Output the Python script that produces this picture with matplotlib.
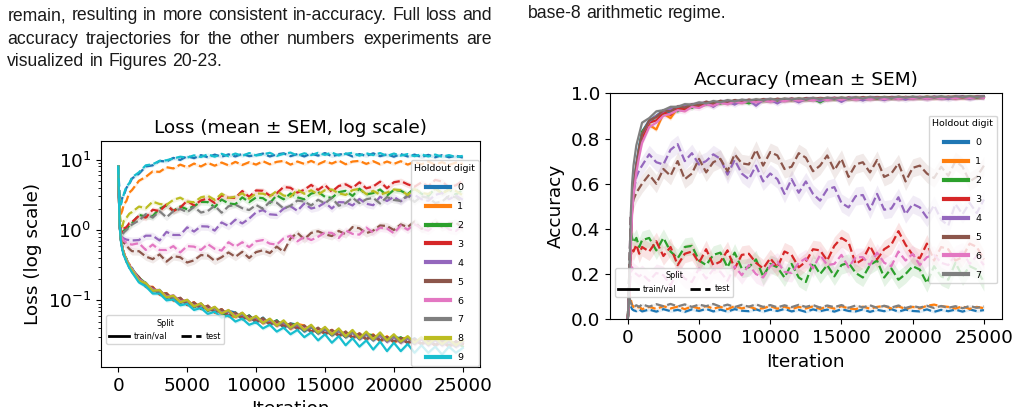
import matplotlib
matplotlib.use("Agg")
import matplotlib.pyplot as plt
from matplotlib.lines import Line2D
import numpy as np

# ---------------- data ----------------
ITER = [0, 100, 200, 300, 400, 600, 800, 1000] + list(range(1500, 25001, 500))
XTICKS = [0, 5000, 10000, 15000, 20000, 25000]
DIGITS_LOSS = [0, 1, 2, 3, 4, 5, 6, 7, 8, 9]
DIGITS_ACC = [0, 1, 2, 3, 4, 5, 6, 7]

loss_train_0 = [8.0, 1.18, 0.7, 0.58, 0.44, 0.39, 0.29, 0.29, 0.185, 0.178, 0.135, 0.141, 0.108, 0.117, 0.092, 0.101, 0.08, 0.09, 0.071, 0.08, 0.064, 0.071, 0.067, 0.054, 0.061, 0.048, 0.057, 0.045, 0.052, 0.041, 0.047, 0.045, 0.036, 0.042, 0.034, 0.039, 0.032, 0.037, 0.03, 0.035, 0.028, 0.033, 0.027, 0.032, 0.026, 0.03, 0.029, 0.025, 0.029, 0.024, 0.028, 0.023, 0.027, 0.026, 0.022, 0.026]
loss_train_1 = [8.0, 1.22, 0.74, 0.53, 0.49, 0.35, 0.33, 0.25, 0.215, 0.155, 0.156, 0.121, 0.127, 0.1, 0.108, 0.086, 0.094, 0.076, 0.084, 0.067, 0.075, 0.06, 0.058, 0.066, 0.052, 0.058, 0.047, 0.054, 0.043, 0.051, 0.039, 0.046, 0.044, 0.036, 0.04, 0.033, 0.038, 0.031, 0.036, 0.029, 0.034, 0.028, 0.033, 0.026, 0.031, 0.025, 0.029, 0.029, 0.024, 0.028, 0.027, 0.023, 0.027, 0.022, 0.026, 0.024]
loss_train_2 = [8.0, 1.2, 0.71, 0.57, 0.45, 0.39, 0.3, 0.28, 0.21, 0.175, 0.138, 0.139, 0.111, 0.115, 0.094, 0.099, 0.081, 0.089, 0.072, 0.079, 0.066, 0.06, 0.067, 0.055, 0.061, 0.05, 0.056, 0.046, 0.052, 0.042, 0.046, 0.045, 0.037, 0.042, 0.034, 0.039, 0.032, 0.037, 0.03, 0.035, 0.029, 0.033, 0.032, 0.027, 0.03, 0.026, 0.03, 0.025, 0.028, 0.024, 0.028, 0.023, 0.027, 0.023, 0.026, 0.022]
loss_train_3 = [8.0, 1.19, 0.73, 0.55, 0.48, 0.36, 0.32, 0.27, 0.205, 0.158, 0.153, 0.122, 0.124, 0.102, 0.107, 0.087, 0.093, 0.077, 0.082, 0.068, 0.074, 0.061, 0.063, 0.058, 0.057, 0.052, 0.052, 0.048, 0.048, 0.044, 0.044, 0.041, 0.043, 0.036, 0.04, 0.034, 0.038, 0.032, 0.035, 0.03, 0.033, 0.028, 0.032, 0.027, 0.03, 0.026, 0.029, 0.025, 0.028, 0.024, 0.027, 0.023, 0.026, 0.022, 0.026, 0.024]
loss_train_4 = [8.0, 1.21, 0.72, 0.54, 0.47, 0.37, 0.31, 0.27, 0.2, 0.17, 0.14, 0.136, 0.113, 0.113, 0.096, 0.098, 0.083, 0.087, 0.073, 0.077, 0.066, 0.069, 0.059, 0.063, 0.053, 0.057, 0.048, 0.052, 0.044, 0.048, 0.04, 0.045, 0.038, 0.042, 0.035, 0.039, 0.033, 0.037, 0.031, 0.035, 0.029, 0.033, 0.028, 0.031, 0.026, 0.03, 0.025, 0.029, 0.024, 0.028, 0.023, 0.027, 0.023, 0.026, 0.022, 0.025]
loss_train_5 = [8.0, 1.2, 0.72, 0.56, 0.46, 0.37, 0.32, 0.27, 0.215, 0.157, 0.152, 0.123, 0.126, 0.1, 0.109, 0.087, 0.093, 0.076, 0.084, 0.068, 0.075, 0.06, 0.067, 0.055, 0.06, 0.05, 0.056, 0.045, 0.051, 0.042, 0.047, 0.039, 0.044, 0.035, 0.041, 0.033, 0.038, 0.031, 0.036, 0.029, 0.034, 0.028, 0.032, 0.027, 0.03, 0.026, 0.029, 0.025, 0.028, 0.024, 0.027, 0.023, 0.027, 0.022, 0.026, 0.024]
loss_train_6 = [8.0, 1.23, 0.73, 0.57, 0.48, 0.38, 0.32, 0.28, 0.2, 0.175, 0.142, 0.14, 0.113, 0.118, 0.097, 0.101, 0.083, 0.09, 0.074, 0.08, 0.066, 0.072, 0.06, 0.066, 0.054, 0.059, 0.049, 0.054, 0.045, 0.05, 0.041, 0.047, 0.039, 0.044, 0.035, 0.041, 0.033, 0.038, 0.031, 0.036, 0.029, 0.034, 0.028, 0.033, 0.026, 0.031, 0.025, 0.03, 0.024, 0.029, 0.023, 0.028, 0.023, 0.027, 0.022, 0.026]
loss_train_7 = [8.0, 1.17, 0.7, 0.54, 0.46, 0.36, 0.31, 0.265, 0.195, 0.17, 0.139, 0.136, 0.112, 0.114, 0.095, 0.099, 0.082, 0.088, 0.073, 0.078, 0.066, 0.07, 0.059, 0.064, 0.053, 0.058, 0.048, 0.053, 0.044, 0.049, 0.04, 0.046, 0.037, 0.043, 0.034, 0.04, 0.032, 0.038, 0.03, 0.036, 0.028, 0.034, 0.027, 0.033, 0.026, 0.031, 0.025, 0.03, 0.024, 0.029, 0.023, 0.028, 0.023, 0.027, 0.022, 0.026]
loss_train_8 = [8.0, 1.2, 0.72, 0.55, 0.47, 0.37, 0.31, 0.27, 0.19, 0.176, 0.137, 0.14, 0.11, 0.117, 0.094, 0.102, 0.082, 0.091, 0.072, 0.081, 0.065, 0.073, 0.058, 0.067, 0.053, 0.06, 0.048, 0.055, 0.044, 0.052, 0.041, 0.048, 0.038, 0.045, 0.035, 0.042, 0.033, 0.04, 0.031, 0.038, 0.029, 0.036, 0.028, 0.035, 0.027, 0.033, 0.026, 0.031, 0.025, 0.03, 0.024, 0.029, 0.024, 0.028, 0.023, 0.027]
loss_train_9 = [8.0, 1.15, 0.68, 0.52, 0.44, 0.35, 0.29, 0.25, 0.18, 0.158, 0.125, 0.125, 0.1, 0.103, 0.085, 0.089, 0.073, 0.078, 0.064, 0.069, 0.057, 0.061, 0.05, 0.055, 0.045, 0.049, 0.04, 0.045, 0.036, 0.041, 0.033, 0.038, 0.03, 0.035, 0.027, 0.033, 0.025, 0.031, 0.023, 0.029, 0.022, 0.027, 0.02, 0.026, 0.019, 0.025, 0.019, 0.024, 0.018, 0.023, 0.018, 0.022, 0.017, 0.022, 0.018, 0.021]

loss_test_0 = [8.0, 3.0, 2.4, 2.9, 3.1, 4.0, 4.5, 5.4, 6.3, 8.0, 8.3, 9.6, 9.4, 10.6, 9.9, 11.2, 10.5, 11.6, 10.8, 11.8, 11.0, 11.9, 11.1, 12.1, 11.2, 11.6, 12.2, 11.1, 11.9, 12.3, 11.2, 12.0, 11.1, 12.2, 11.4, 12.4, 11.2, 11.8, 12.2, 11.1, 12.0, 11.3, 12.3, 11.2, 11.9, 11.0, 12.0, 11.1, 11.8, 10.9, 11.7, 10.8, 11.6, 10.8, 11.4, 10.7]
loss_test_1 = [8.0, 2.2, 1.7, 1.9, 2.3, 2.6, 3.4, 3.7, 5.0, 5.7, 6.8, 6.7, 7.8, 7.5, 8.5, 7.8, 8.8, 8.0, 9.0, 8.2, 9.1, 8.3, 9.3, 8.4, 9.2, 8.5, 9.5, 8.6, 9.3, 9.6, 8.5, 9.4, 8.7, 9.6, 8.6, 9.5, 8.8, 9.7, 8.6, 9.4, 9.6, 8.7, 9.5, 8.6, 9.4, 8.7, 9.5, 8.5, 9.3, 8.6, 9.4, 8.5, 9.2, 8.4, 9.1, 8.7]
loss_test_2 = [8.0, 1.5, 0.95, 0.88, 0.98, 1.05, 1.15, 1.25, 1.64, 1.55, 1.58, 2.01, 2.24, 1.87, 2.16, 1.97, 2.18, 2.51, 2.49, 2.11, 2.71, 2.39, 2.32, 2.91, 2.49, 2.90, 2.83, 2.42, 3.11, 2.73, 3.30, 2.91, 2.73, 3.29, 3.48, 2.96, 2.86, 3.45, 3.60, 3.05, 3.86, 3.20, 3.35, 3.76, 3.08, 3.71, 3.61, 3.23, 3.92, 3.28, 3.03, 3.92, 3.34, 3.76, 3.19, 3.71]
loss_test_3 = [8.0, 1.6, 1.0, 0.92, 1.05, 1.1, 1.25, 1.3, 1.59, 1.50, 1.94, 1.86, 2.30, 1.86, 2.08, 2.60, 2.23, 2.63, 2.81, 2.42, 3.11, 2.86, 2.87, 3.58, 2.96, 3.65, 3.61, 3.08, 3.33, 4.09, 3.98, 3.40, 3.73, 4.37, 3.71, 4.36, 3.50, 4.22, 4.46, 3.95, 4.76, 3.91, 4.15, 4.86, 3.92, 4.77, 4.96, 4.46, 4.12, 4.74, 4.19, 5.15, 4.88, 4.05, 4.32, 5.01]
loss_test_4 = [8.0, 1.3, 0.85, 0.78, 0.76, 0.73, 0.72, 0.71, 0.72, 0.83, 0.83, 0.71, 0.94, 0.85, 0.85, 1.09, 0.95, 1.13, 1.12, 0.98, 1.28, 1.14, 1.40, 1.24, 1.45, 1.78, 1.92, 1.67, 1.64, 2.01, 2.18, 1.87, 2.38, 2.02, 2.13, 2.45, 2.02, 2.49, 2.47, 2.23, 2.76, 2.36, 2.25, 2.97, 2.58, 2.96, 2.55, 3.02, 3.16, 2.74, 2.60, 3.15, 3.36, 2.73, 3.09, 2.69]
loss_test_5 = [8.0, 1.2, 0.8, 0.74, 0.66, 0.6, 0.54, 0.5, 0.50, 0.42, 0.385, 0.45, 0.355, 0.425, 0.41, 0.345, 0.37, 0.44, 0.435, 0.365, 0.41, 0.48, 0.415, 0.49, 0.40, 0.485, 0.515, 0.47, 0.58, 0.49, 0.76, 0.91, 0.74, 0.91, 0.96, 0.87, 0.82, 0.97, 0.87, 1.10, 1.06, 0.90, 0.98, 1.16, 1.14, 1.00, 1.20, 1.10, 1.32, 1.04, 1.11, 1.33, 1.09, 1.24, 1.27, 1.06]
loss_test_6 = [8.0, 1.2, 0.8, 0.76, 0.7, 0.66, 0.63, 0.62, 0.65, 0.52, 0.62, 0.52, 0.52, 0.59, 0.48, 0.59, 0.58, 0.52, 0.63, 0.54, 0.51, 0.67, 0.58, 0.67, 0.57, 0.69, 0.72, 0.64, 0.62, 0.76, 0.83, 0.69, 0.80, 0.72, 0.80, 0.92, 0.91, 0.77, 0.99, 0.88, 0.86, 1.08, 0.92, 1.08, 1.05, 0.90, 1.16, 1.01, 1.21, 1.06, 0.98, 1.17, 1.22, 1.02, 0.97, 1.15]
loss_test_7 = [8.0, 1.4, 0.9, 0.84, 0.92, 1.0, 1.1, 1.2, 1.36, 1.68, 1.50, 1.85, 1.51, 1.85, 1.99, 1.79, 2.13, 1.77, 1.86, 2.21, 1.76, 2.17, 2.29, 2.04, 1.92, 2.27, 2.00, 2.52, 2.44, 2.02, 2.21, 2.62, 2.54, 2.23, 2.69, 2.39, 2.86, 2.21, 2.41, 2.87, 2.41, 2.73, 2.86, 2.38, 2.94, 2.67, 2.59, 3.12, 2.50, 3.00, 2.87, 2.42, 2.54, 3.04, 2.92, 2.46]
loss_test_8 = [8.0, 1.8, 1.2, 1.12, 1.35, 1.5, 1.7, 1.8, 2.15, 2.04, 2.53, 2.34, 2.28, 2.68, 2.88, 2.53, 2.48, 2.91, 3.06, 2.68, 3.28, 2.85, 2.97, 3.33, 2.79, 3.31, 3.28, 3.01, 3.59, 3.09, 2.97, 3.74, 3.27, 3.67, 3.19, 3.68, 3.76, 3.33, 3.15, 3.68, 3.85, 3.24, 3.59, 3.19, 3.41, 3.76, 3.68, 3.15, 3.81, 3.37, 3.24, 3.85, 3.33, 3.72, 3.59, 3.11]
loss_test_9 = [8.0, 2.8, 2.3, 2.8, 3.2, 4.2, 4.6, 5.6, 6.6, 8.3, 8.6, 9.6, 9.8, 10.4, 11.0, 10.7, 11.5, 10.9, 11.9, 11.0, 12.1, 11.2, 12.2, 11.3, 12.4, 11.5, 11.9, 12.5, 11.3, 12.1, 12.6, 11.4, 12.3, 11.6, 12.5, 11.7, 12.6, 11.5, 12.1, 12.5, 11.4, 12.3, 11.6, 12.4, 11.3, 12.2, 11.4, 12.0, 11.2, 11.9, 11.1, 11.8, 11.0, 11.6, 10.9, 11.3]

acc_train_0 = [0.0, 0.12, 0.36, 0.5, 0.59, 0.69, 0.77, 0.83, 0.88, 0.9, 0.925, 0.915, 0.94, 0.93, 0.95, 0.945, 0.96, 0.952, 0.965, 0.958, 0.968, 0.962, 0.97, 0.965, 0.972, 0.966, 0.974, 0.968, 0.975, 0.97, 0.977, 0.972, 0.978, 0.973, 0.979, 0.974, 0.98, 0.975, 0.981, 0.976, 0.98, 0.977, 0.982, 0.976, 0.983, 0.978, 0.982, 0.979, 0.984, 0.978, 0.983, 0.98, 0.985, 0.979, 0.984, 0.981]
acc_train_1 = [0.0, 0.11, 0.34, 0.49, 0.57, 0.67, 0.75, 0.8, 0.86, 0.84, 0.91, 0.89, 0.935, 0.925, 0.945, 0.95, 0.955, 0.962, 0.958, 0.966, 0.96, 0.969, 0.963, 0.971, 0.967, 0.973, 0.969, 0.975, 0.97, 0.976, 0.972, 0.978, 0.974, 0.979, 0.975, 0.98, 0.976, 0.981, 0.977, 0.982, 0.978, 0.983, 0.979, 0.984, 0.98, 0.983, 0.979, 0.985, 0.98, 0.984, 0.981, 0.986, 0.98, 0.985, 0.982, 0.986]
acc_train_2 = [0.0, 0.13, 0.36, 0.51, 0.58, 0.68, 0.76, 0.83, 0.87, 0.9, 0.91, 0.93, 0.92, 0.945, 0.935, 0.955, 0.95, 0.962, 0.955, 0.966, 0.96, 0.968, 0.955, 0.97, 0.966, 0.973, 0.968, 0.974, 0.97, 0.976, 0.971, 0.977, 0.96, 0.978, 0.974, 0.979, 0.975, 0.98, 0.976, 0.981, 0.977, 0.982, 0.978, 0.983, 0.979, 0.984, 0.98, 0.983, 0.981, 0.985, 0.98, 0.984, 0.982, 0.986, 0.981, 0.985]
acc_train_3 = [0.0, 0.12, 0.34, 0.48, 0.57, 0.67, 0.74, 0.8, 0.87, 0.88, 0.915, 0.905, 0.935, 0.93, 0.95, 0.942, 0.958, 0.95, 0.963, 0.956, 0.967, 0.96, 0.97, 0.963, 0.972, 0.966, 0.974, 0.968, 0.975, 0.97, 0.976, 0.972, 0.978, 0.973, 0.979, 0.974, 0.98, 0.975, 0.981, 0.976, 0.98, 0.977, 0.982, 0.976, 0.981, 0.978, 0.983, 0.977, 0.982, 0.979, 0.984, 0.978, 0.983, 0.98, 0.984, 0.982]
acc_train_4 = [0.0, 0.12, 0.35, 0.5, 0.58, 0.68, 0.76, 0.82, 0.875, 0.9, 0.92, 0.93, 0.94, 0.945, 0.95, 0.955, 0.96, 0.94, 0.963, 0.965, 0.95, 0.968, 0.969, 0.945, 0.971, 0.972, 0.955, 0.974, 0.975, 0.96, 0.976, 0.977, 0.965, 0.978, 0.979, 0.962, 0.98, 0.98, 0.968, 0.981, 0.981, 0.97, 0.982, 0.982, 0.972, 0.983, 0.983, 0.975, 0.984, 0.984, 0.974, 0.985, 0.985, 0.976, 0.985, 0.986]
acc_train_5 = [0.0, 0.12, 0.35, 0.5, 0.58, 0.68, 0.76, 0.82, 0.88, 0.895, 0.925, 0.92, 0.942, 0.937, 0.951, 0.948, 0.963, 0.955, 0.967, 0.958, 0.97, 0.962, 0.972, 0.965, 0.974, 0.967, 0.976, 0.969, 0.977, 0.97, 0.978, 0.972, 0.979, 0.973, 0.98, 0.975, 0.981, 0.975, 0.982, 0.976, 0.983, 0.977, 0.983, 0.978, 0.984, 0.979, 0.984, 0.98, 0.985, 0.98, 0.985, 0.981, 0.986, 0.981, 0.986, 0.983]
acc_train_6 = [0.0, 0.1, 0.3, 0.46, 0.55, 0.65, 0.72, 0.78, 0.85, 0.87, 0.9, 0.91, 0.925, 0.92, 0.94, 0.935, 0.95, 0.945, 0.958, 0.952, 0.963, 0.957, 0.966, 0.96, 0.969, 0.963, 0.971, 0.965, 0.973, 0.967, 0.974, 0.969, 0.976, 0.97, 0.977, 0.971, 0.978, 0.972, 0.979, 0.973, 0.98, 0.974, 0.98, 0.975, 0.981, 0.976, 0.982, 0.976, 0.982, 0.977, 0.983, 0.978, 0.983, 0.979, 0.984, 0.98]
acc_train_7 = [0.0, 0.15, 0.45, 0.6, 0.68, 0.77, 0.82, 0.87, 0.89, 0.92, 0.925, 0.94, 0.94, 0.952, 0.95, 0.96, 0.955, 0.966, 0.96, 0.97, 0.964, 0.972, 0.967, 0.974, 0.969, 0.976, 0.97, 0.977, 0.972, 0.978, 0.973, 0.98, 0.974, 0.981, 0.975, 0.982, 0.976, 0.983, 0.977, 0.984, 0.978, 0.984, 0.979, 0.985, 0.98, 0.985, 0.98, 0.986, 0.981, 0.986, 0.982, 0.987, 0.982, 0.987, 0.983, 0.987]

acc_test_0 = [0.0, 0.08, 0.06, 0.045, 0.04, 0.036, 0.044, 0.035, 0.043, 0.034, 0.045, 0.036, 0.042, 0.033, 0.044, 0.037, 0.046, 0.035, 0.043, 0.034, 0.045, 0.038, 0.036, 0.044, 0.034, 0.043, 0.037, 0.046, 0.035, 0.042, 0.033, 0.044, 0.036, 0.043, 0.034, 0.045, 0.037, 0.035, 0.044, 0.033, 0.042, 0.036, 0.045, 0.034, 0.043, 0.037, 0.035, 0.044, 0.033, 0.042, 0.036, 0.043, 0.034, 0.044, 0.036, 0.041]
acc_test_1 = [0.0, 0.12, 0.09, 0.065, 0.055, 0.048, 0.056, 0.045, 0.055, 0.046, 0.058, 0.048, 0.056, 0.045, 0.057, 0.048, 0.059, 0.047, 0.055, 0.045, 0.058, 0.048, 0.056, 0.046, 0.049, 0.058, 0.047, 0.056, 0.045, 0.055, 0.048, 0.057, 0.046, 0.056, 0.047, 0.058, 0.048, 0.045, 0.056, 0.047, 0.055, 0.059, 0.048, 0.057, 0.046, 0.055, 0.048, 0.06, 0.065, 0.058, 0.055, 0.048, 0.057, 0.046, 0.055, 0.049]
acc_test_2 = [0.0, 0.2, 0.4, 0.36, 0.34, 0.36, 0.32, 0.35, 0.36, 0.305, 0.36, 0.30, 0.27, 0.32, 0.325, 0.26, 0.24, 0.285, 0.295, 0.23, 0.295, 0.225, 0.23, 0.265, 0.19, 0.245, 0.23, 0.185, 0.245, 0.185, 0.165, 0.25, 0.20, 0.24, 0.19, 0.24, 0.25, 0.205, 0.185, 0.24, 0.26, 0.185, 0.225, 0.175, 0.20, 0.235, 0.22, 0.16, 0.235, 0.19, 0.175, 0.25, 0.19, 0.235, 0.22, 0.165]
acc_test_3 = [0.0, 0.15, 0.28, 0.31, 0.3, 0.33, 0.29, 0.32, 0.30, 0.345, 0.28, 0.32, 0.24, 0.29, 0.30, 0.25, 0.31, 0.24, 0.255, 0.305, 0.225, 0.285, 0.29, 0.25, 0.225, 0.27, 0.23, 0.30, 0.285, 0.23, 0.255, 0.31, 0.305, 0.26, 0.325, 0.36, 0.34, 0.245, 0.265, 0.325, 0.265, 0.31, 0.33, 0.39, 0.33, 0.285, 0.27, 0.335, 0.26, 0.32, 0.31, 0.26, 0.275, 0.335, 0.32, 0.265]
acc_test_4 = [0.0, 0.2, 0.45, 0.53, 0.56, 0.63, 0.66, 0.68, 0.73, 0.695, 0.685, 0.75, 0.775, 0.70, 0.735, 0.685, 0.70, 0.73, 0.71, 0.64, 0.705, 0.645, 0.62, 0.68, 0.61, 0.645, 0.62, 0.555, 0.62, 0.56, 0.61, 0.555, 0.525, 0.575, 0.585, 0.515, 0.495, 0.545, 0.55, 0.485, 0.555, 0.485, 0.49, 0.54, 0.465, 0.51, 0.495, 0.45, 0.505, 0.44, 0.415, 0.51, 0.465, 0.515, 0.47, 0.53]
acc_test_5 = [0.0, 0.2, 0.45, 0.5, 0.53, 0.56, 0.58, 0.6, 0.64, 0.60, 0.665, 0.635, 0.70, 0.62, 0.645, 0.71, 0.65, 0.695, 0.71, 0.655, 0.73, 0.69, 0.685, 0.75, 0.68, 0.74, 0.725, 0.665, 0.675, 0.735, 0.715, 0.655, 0.68, 0.725, 0.66, 0.71, 0.63, 0.685, 0.695, 0.65, 0.705, 0.63, 0.645, 0.69, 0.61, 0.67, 0.68, 0.645, 0.625, 0.675, 0.635, 0.70, 0.675, 0.61, 0.63, 0.68]
acc_test_6 = [0.0, 0.12, 0.2, 0.23, 0.21, 0.2, 0.19, 0.2, 0.17, 0.205, 0.195, 0.15, 0.215, 0.18, 0.165, 0.225, 0.18, 0.22, 0.21, 0.17, 0.235, 0.195, 0.24, 0.20, 0.185, 0.235, 0.255, 0.21, 0.205, 0.25, 0.27, 0.225, 0.285, 0.24, 0.245, 0.285, 0.23, 0.275, 0.275, 0.24, 0.295, 0.25, 0.235, 0.30, 0.26, 0.29, 0.24, 0.275, 0.285, 0.25, 0.24, 0.285, 0.30, 0.245, 0.28, 0.24]
acc_test_7 = [0.0, 0.1, 0.075, 0.06, 0.055, 0.062, 0.055, 0.066, 0.056, 0.067, 0.058, 0.068, 0.057, 0.066, 0.055, 0.065, 0.058, 0.068, 0.056, 0.065, 0.054, 0.064, 0.056, 0.066, 0.055, 0.063, 0.053, 0.062, 0.054, 0.064, 0.055, 0.063, 0.052, 0.061, 0.054, 0.063, 0.051, 0.061, 0.053, 0.062, 0.051, 0.06, 0.052, 0.061, 0.05, 0.059, 0.052, 0.06, 0.05, 0.059, 0.051, 0.058, 0.049, 0.059, 0.051, 0.057]

# SEM (relative for loss, absolute for accuracy), one value per series
loss_train_sem = [0.06, 0.06, 0.06, 0.06, 0.06, 0.06, 0.06, 0.06, 0.06, 0.06]
loss_test_sem = [0.05, 0.05, 0.10, 0.10, 0.12, 0.12, 0.12, 0.10, 0.08, 0.05]
acc_train_sem = [0.01, 0.01, 0.01, 0.01, 0.012, 0.01, 0.012, 0.01]
acc_test_sem = [0.006, 0.006, 0.04, 0.04, 0.04, 0.04, 0.04, 0.006]

LOSS_TRAIN = [loss_train_0, loss_train_1, loss_train_2, loss_train_3, loss_train_4,
              loss_train_5, loss_train_6, loss_train_7, loss_train_8, loss_train_9]
LOSS_TEST = [loss_test_0, loss_test_1, loss_test_2, loss_test_3, loss_test_4,
             loss_test_5, loss_test_6, loss_test_7, loss_test_8, loss_test_9]
ACC_TRAIN = [acc_train_0, acc_train_1, acc_train_2, acc_train_3,
             acc_train_4, acc_train_5, acc_train_6, acc_train_7]
ACC_TEST = [acc_test_0, acc_test_1, acc_test_2, acc_test_3,
            acc_test_4, acc_test_5, acc_test_6, acc_test_7]

lens = [len(s) for s in LOSS_TRAIN + LOSS_TEST + ACC_TRAIN + ACC_TEST]
assert all(l == len(ITER) for l in lens), (len(ITER), lens)

BODY_LEFT = ["remain, resulting in more consistent in-accuracy. Full loss and",
             "accuracy trajectories for the other numbers experiments are",
             "visualized in Figures 20-23."]
BODY_RIGHT = ["base-8 arithmetic regime."]

# ---------------- figure ----------------
W, H = 1019, 407
fig = plt.figure(figsize=(W / 100, H / 100), dpi=100)
plt.rcParams['font.family'] = 'DejaVu Sans'

def axrect(l, r, t, b):
    return [l / W, 1 - b / H, (r - l) / W, (b - t) / H]

FS = 13.3
colors = plt.get_cmap('tab10').colors
ax1 = fig.add_axes(axrect(101, 480, 141, 367))
ax2 = fig.add_axes(axrect(610, 1001.7, 93.3, 319.3))

x = np.array(ITER)
for d in DIGITS_LOSS:
    c = colors[d]
    tr = np.array(LOSS_TRAIN[d]); te = np.array(LOSS_TEST[d])
    s1 = loss_train_sem[d]; s2 = loss_test_sem[d]
    ax1.fill_between(x, tr * (1 - s1), tr * (1 + s1), color=c, alpha=0.15, lw=0)
    ax1.plot(x, tr, color=c, lw=1.6, ls='-')
    ax1.fill_between(x, te * (1 - s2), te * (1 + s2), color=c, alpha=0.12, lw=0)
    ax1.plot(x, te, color=c, lw=1.6, ls='--')

for d in DIGITS_ACC:
    c = colors[d]
    tr = np.array(ACC_TRAIN[d]); te = np.array(ACC_TEST[d])
    s1 = acc_train_sem[d]; s2 = acc_test_sem[d]
    ax2.fill_between(x, tr - s1, tr + s1, color=c, alpha=0.15, lw=0)
    ax2.plot(x, tr, color=c, lw=1.6, ls='-')
    ax2.fill_between(x, te - s2, te + s2, color=c, alpha=0.12, lw=0)
    ax2.plot(x, te, color=c, lw=1.6, ls='--')

ax1.set_yscale('log')
ax1.set_ylim(0.0113, 18.4)
ax2.set_ylim(0, 1)
for ax in (ax1, ax2):
    ax.set_xlim(-1250, 26250)
    ax.set_xticks(XTICKS)
    ax.tick_params(labelsize=FS)
    ax.set_xlabel('Iteration', fontsize=FS)
ax1.set_ylabel('Loss (log scale)', fontsize=FS)
ax2.set_ylabel('Accuracy', fontsize=FS)
ax2.set_yticks([0.0, 0.2, 0.4, 0.6, 0.8, 1.0])
ax1.set_title('Loss (mean \u00b1 SEM, log scale)', fontsize=FS)
ax2.set_title('Accuracy (mean \u00b1 SEM)', fontsize=FS)

def split_legend(ax, anchor):
    h = [Line2D([], [], color='black', lw=2.0, ls='-'),
         Line2D([], [], color='black', lw=2.0, ls='--')]
    leg = ax.legend(h, ['train/val', 'test'], title='Split', ncol=2,
                    loc='lower left', bbox_to_anchor=anchor, borderaxespad=0,
                    fontsize=5.8, title_fontsize=5.8, handlelength=2.4,
                    handletextpad=0.6, columnspacing=1.8, borderpad=0.4)
    ax.add_artist(leg)

split_legend(ax1, (0.0132, 0.102))
split_legend(ax2, (0.0128, 0.10))

def digit_legend(ax, digits, loc, anchor, pad):
    h = [Line2D([], [], color=colors[d], lw=3.0) for d in digits]
    ax.legend(h, [str(d) for d in digits], title='Holdout digit', loc=loc,
              bbox_to_anchor=anchor, borderaxespad=pad, fontsize=6.8,
              title_fontsize=6.8, handlelength=2.5, handletextpad=0.75,
              labelspacing=1.05)

digit_legend(ax1, DIGITS_LOSS, 'lower right', (1.0, 0.0), 0.1)
digit_legend(ax2, DIGITS_ACC, 'center right', (1.0, 0.53), 0.5)

# ---------------- body text ----------------
BODY_FS = 12.7
renderer = fig.canvas.get_renderer()

def put_line(text, x0, x1, ybase, justify):
    words = text.split(' ')
    objs = [fig.text(0, 1 - ybase / H, w, fontsize=BODY_FS, family='Liberation Sans',
                     color='#1a1a1a', va='baseline', ha='left') for w in words]
    widths = [o.get_window_extent(renderer).width for o in objs]
    if justify and len(words) > 1:
        gap = (x1 - x0 - sum(widths)) / (len(words) - 1)
    else:
        gap = 0.278 * BODY_FS * 100 / 72
    xp = x0
    for o, w in zip(objs, widths):
        o.set_x(xp / W)
        xp += w + gap

put_line(BODY_LEFT[0], 7.3, 491.7, 20.5, True)
put_line(BODY_LEFT[1], 7.3, 491.7, 43.5, True)
put_line(BODY_LEFT[2], 7.3, 491.7, 65.5, False)
put_line(BODY_RIGHT[0], 528, 1000, 18.3, False)

fig.savefig('out.png', dpi=100)
